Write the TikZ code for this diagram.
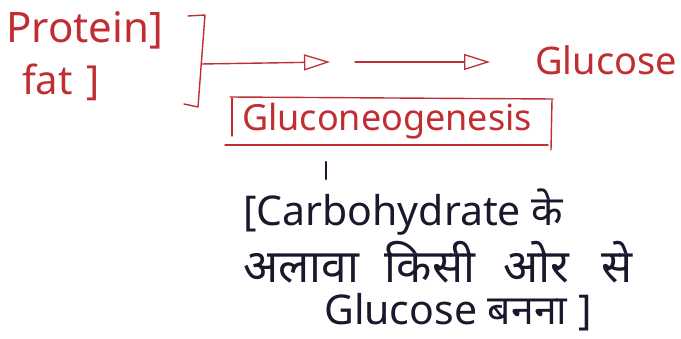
\documentclass[tikz,border=0pt]{standalone}
\usepackage{fontspec}
\setmainfont{Noto Sans}
\newfontfamily\devfont[Script=Devanagari]{Noto Sans}
\usetikzlibrary{arrows.meta}
\definecolor{pen}{RGB}{192,45,50}
\definecolor{ink}{RGB}{25,25,45}
\tikzset{
  redtxt/.style={text=pen, inner sep=0pt, anchor=west, font=\fontsize{42}{46}\selectfont},
  blktxt/.style={text=ink, inner sep=0pt, anchor=west, font=\devfont\fontsize{41}{46}\selectfont},
  redline/.style={draw=pen, line width=1.4pt, line cap=round, line join=round},
  flow/.style={redline, -{Triangle[open, length=26pt, width=16pt, line width=1.3pt]}}
}
\begin{document}
\begin{tikzpicture}[x=1pt, y=-1pt]
\useasboundingbox (0,0) rectangle (681,339);
\node[redtxt] (protein) at (6,30) {Protein]};
\node[redtxt, font=\fontsize{40}{46}\selectfont] (fat) at (22,82) {fat\hspace{14pt}]};
% brace
\draw[redline] (188,16) -- (205,15) -- (198,107) -- (184,104);
\coordinate (b) at (201,64);
\coordinate (m1) at (330,62);
\coordinate (m2) at (355,62);
\node[redtxt, font=\fontsize{38}{42}\selectfont] (glucose) at (535,60) {Glucose};
\draw[flow] (b) -- (m1);
\draw[flow] (m2) -- (490,62) coordinate (m3);
\node[redtxt, anchor=center, font=\fontsize{36}{40}\selectfont] (gng) at (387,121) {Gluconeogenesis};
\draw[redline] (230,97) -- (553,99);
\draw[redline] (232,98) -- (232,136);
\draw[redline] (552,100) -- (551,150);
\draw[redline] (225,145) -- (548,145);
\coordinate (tick) at (326,170);
\draw[draw=ink, line width=2.4pt, line cap=round] (tick) ++(0,-8) -- ++(0,17);
\node[blktxt] (l1) at (243,212) {[Carbohydrate के};
\node[blktxt, font=\devfont\fontsize{46}{50}\selectfont] (l2) at (243,262) {अलावा\hspace{26pt}किसी\hspace{28pt}ओर\hspace{32pt}से};
\node[blktxt] (l3) at (324,312) {Glucose बनना ]};
\end{tikzpicture}
\end{document}
